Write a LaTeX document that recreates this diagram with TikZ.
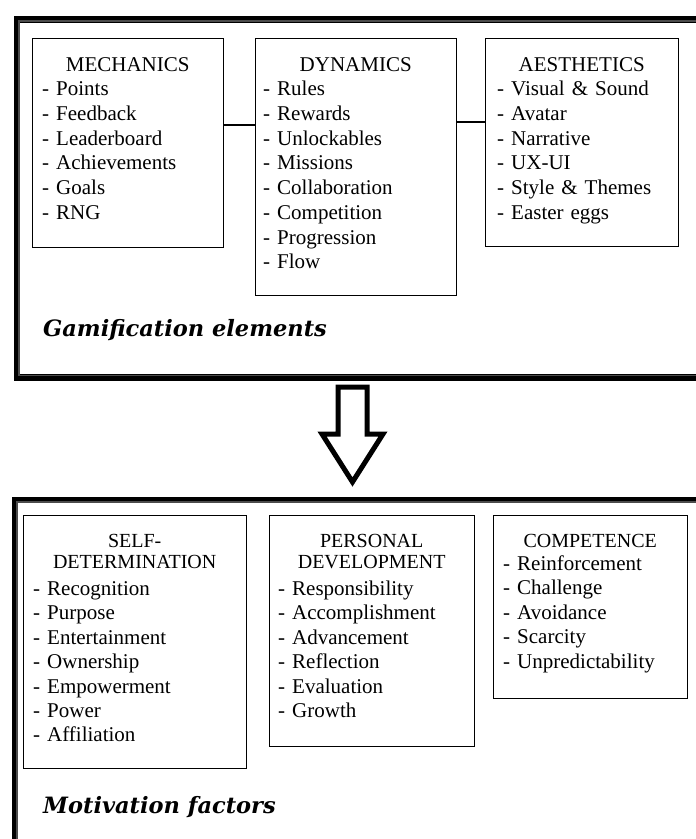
\documentclass[tikz,border=0pt]{standalone}
\usepackage{fontspec}
\setmainfont{Liberation Serif}
\newfontfamily\capfont{DejaVu Serif}
\usepackage{tikz}
\usetikzlibrary{positioning}

\begin{document}
\begin{tikzpicture}[x=1pt, y=1pt,
  outerframe/.style={draw, line width=6.5pt, anchor=north west, inner sep=0pt},
  innerline/.style={draw=black!70, line width=1.1pt},
  groupbox/.style={draw, line width=1.3pt, anchor=north west, inner sep=0pt},
  toplist/.style={anchor=north west, align=left, inner sep=0pt, font=\fontsize{21}{24.7}\selectfont},
  botlist/.style={anchor=north west, align=left, inner sep=0pt, font=\fontsize{21}{24.4}\selectfont},
  caption/.style={anchor=base west, inner sep=0pt, font=\capfont\bfseries\itshape\fontsize{22.5}{27}\selectfont},
  link/.style={line width=1.3pt},
  hollowarrow/.style={draw, line width=5pt, line join=miter, fill=white}]

  \useasboundingbox (0,0) rectangle (696,-839);
  \begin{scope}
  \clip (0,0) rectangle (696,-839);

  % Gamification elements
  \node[outerframe, minimum width=686pt, minimum height=358pt] (elements) at (13.5,-16) {};
  \draw[innerline] ([shift={(5.5,-5)}]elements.north west) rectangle ([shift={(-6.5,5)}]elements.south east);

  \node[groupbox, minimum width=191pt, minimum height=209pt] (mech) at (32,-38) {};
  \node[groupbox, minimum width=201pt, minimum height=257pt] (dyn) at (255,-38) {};
  \node[groupbox, minimum width=193pt, minimum height=208pt] (aes) at (485,-38) {};

  \node[toplist, text width=171pt, below right=19pt and 10pt of mech.north west] (mechlist) {
    \makebox[\linewidth]{MECHANICS}\\
    - Points\\
    - Feedback\\
    - Leaderboard\\
    - Achievements\\
    - Goals\\
    - RNG
  };
  \node[toplist, text width=185pt, below right=19pt and 8pt of dyn.north west] (dynlist) {
    \makebox[\linewidth]{DYNAMICS}\\
    - Rules\\
    - Rewards\\
    - Unlockables\\
    - Missions\\
    - Collaboration\\
    - Competition\\
    - Progression\\
    - Flow
  };
  \node[toplist, text width=169pt, below right=19pt and 12pt of aes.north west] (aeslist) {
    \makebox[\linewidth]{AESTHETICS}\\
    - Visual \& Sound\\
    - Avatar\\
    - Narrative\\
    - UX-UI\\
    - Style \& Themes\\
    - Easter eggs
  };

  \coordinate (linkA) at (0,-125);
  \coordinate (linkB) at (0,-122);
  \draw[link] (mech.east |- linkA) -- (dyn.west |- linkA);
  \draw[link] (dyn.east |- linkB) -- (aes.west |- linkB);

  \node[caption] (elemcap) at (43,-336) {Gamification elements};

  % arrow between the two groups
  \coordinate (arrowtop) at (352.5,-387);
  \draw[hollowarrow] (arrowtop) ++(-14.5,0) -- ++(29,0) -- ++(0,-47) -- ++(16,0)
    -- ++(-30.5,-48) -- ++(-30.5,48) -- ++(16,0) -- cycle;

  % Motivation factors
  \node[outerframe, minimum width=688pt, minimum height=400pt] (factors) at (11.5,-496.5) {};
  \draw[innerline] ([shift={(5.5,0)}]factors.south west) -- ([shift={(5.5,-5.5)}]factors.north west)
    -- ([shift={(-5,-5.5)}]factors.north east) -- ([shift={(-5,0)}]factors.south east);

  \node[groupbox, minimum width=223pt, minimum height=253pt] (selfdet) at (23,-515) {};
  \node[groupbox, minimum width=205pt, minimum height=231pt] (persdev) at (269,-515) {};
  \node[groupbox, minimum width=194pt, minimum height=183pt] (compet) at (493,-515) {};

  \node[botlist, text width=203pt, below right=19pt and 10pt of selfdet.north west] (selflist) {
    \makebox[\linewidth]{\fontsize{20}{21}\selectfont SELF-}\\[-3.4pt]
    \makebox[\linewidth]{\fontsize{20}{21}\selectfont DETERMINATION}\\[2.6pt]
    - Recognition\\
    - Purpose\\
    - Entertainment\\
    - Ownership\\
    - Empowerment\\
    - Power\\
    - Affiliation
  };
  \node[botlist, text width=187pt, below right=19pt and 9pt of persdev.north west] (perslist) {
    \makebox[\linewidth]{\fontsize{20}{21}\selectfont PERSONAL}\\[-3.4pt]
    \makebox[\linewidth]{\fontsize{20}{21}\selectfont DEVELOPMENT}\\[2.6pt]
    - Responsibility\\
    - Accomplishment\\
    - Advancement\\
    - Reflection\\
    - Evaluation\\
    - Growth
  };
  \node[botlist, text width=174pt, below right=19pt and 10pt of compet.north west] (complist) {
    \makebox[\linewidth]{\fontsize{20}{21}\selectfont COMPETENCE}\\[-1.4pt]
    - Reinforcement\\
    - Challenge\\
    - Avoidance\\
    - Scarcity\\
    - Unpredictability
  };

  \node[caption] (factcap) at (43,-813) {Motivation factors};
  \end{scope}
\end{tikzpicture}
\end{document}
